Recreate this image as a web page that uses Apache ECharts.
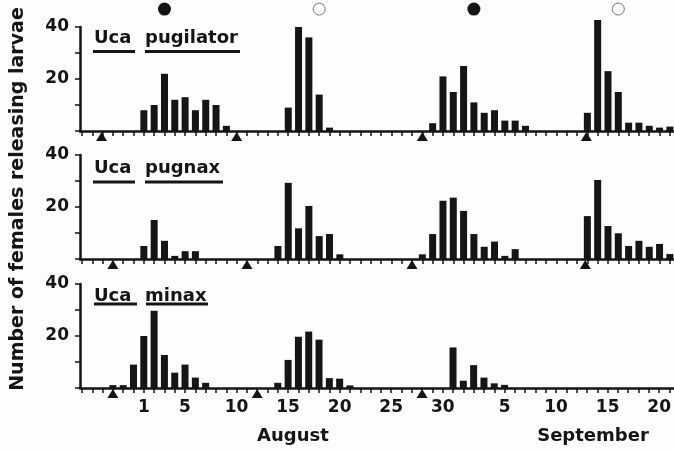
<!DOCTYPE html>
<html><head><meta charset="utf-8">
<script src="https://cdn.jsdelivr.net/npm/echarts@6/dist/echarts.min.js"></script>
<style>html,body{margin:0;padding:0;background:#fdfdfb}#c{width:674px;height:452px}</style>
</head><body><div id="c"></div>
<script>
// Panel titles
const speciesGenus = ['Uca', 'Uca', 'Uca'];
const speciesName = ['pugilator', 'pugnax', 'minax'];

// Uca pugilator
const pugilatorDates = ['Aug 1','Aug 2','Aug 3','Aug 4','Aug 5','Aug 6','Aug 7','Aug 8','Aug 9',
  'Aug 15','Aug 16','Aug 17','Aug 18','Aug 19',
  'Aug 29','Aug 30','Aug 31','Sep 1','Sep 2','Sep 3','Sep 4','Sep 5','Sep 6','Sep 7',
  'Sep 13','Sep 14','Sep 15','Sep 16','Sep 17','Sep 18','Sep 19','Sep 20','Sep 21'];
const pugilatorCounts = [8,10,22,12,13,8,12,10,2,
  9,40,36,14,1.3,
  3,21,15,25,11,7,8,4,4,2,
  7,42.7,23,15,3.2,3.2,2,1.3,1.7];

// Uca pugnax
const pugnaxDates = ['Aug 1','Aug 2','Aug 3','Aug 4','Aug 5','Aug 6',
  'Aug 14','Aug 15','Aug 16','Aug 17','Aug 18','Aug 19','Aug 20',
  'Aug 28','Aug 29','Aug 30','Aug 31','Sep 1','Sep 2','Sep 3','Sep 4','Sep 5','Sep 6',
  'Sep 13','Sep 14','Sep 15','Sep 16','Sep 17','Sep 18','Sep 19','Sep 20','Sep 21'];
const pugnaxCounts = [5,15,7,1.2,3,3,
  5,29.3,11.8,20.4,8.8,9.6,1.8,
  1.8,9.6,22.4,23.6,18.5,9.6,4.7,6.7,1.2,3.8,
  16.5,30.4,12.7,9.9,5,7,4.7,5.8,1.9];

// Uca minax
const minaxDates = ['Jul 29','Jul 30','Jul 31','Aug 1','Aug 2','Aug 3','Aug 4','Aug 5','Aug 6','Aug 7',
  'Aug 14','Aug 15','Aug 16','Aug 17','Aug 18','Aug 19','Aug 20','Aug 21',
  'Aug 31','Sep 1','Sep 2','Sep 3','Sep 4','Sep 5'];
const minaxCounts = [1.1,1.1,9,20,29.7,12.7,5.9,9,4,2,
  2,10.8,19.7,21.7,18.6,3.8,3.6,1,
  15.6,2.8,8.8,4,1.8,1.2];

// Tide markers (triangles), day number (Aug 1 = 1, Sep 1 = 32)
const pugilatorTides = [-3.1, 10, 28, 43.9];
const pugnaxTides = [-2, 11, 27, 43.8];
const minaxTides = [-2, 12, 28];

// Moon phases
const newMoonDays = [3, 33];
const fullMoonDays = [18, 47];

// X axis
const axisTickDates = ['Jul 26','Jul 27','Jul 28','Jul 29','Jul 30','Jul 31',
  'Aug 1','Aug 2','Aug 3','Aug 4','Aug 5','Aug 6','Aug 7','Aug 8','Aug 9','Aug 10',
  'Aug 11','Aug 12','Aug 13','Aug 14','Aug 15','Aug 16','Aug 17','Aug 18','Aug 19','Aug 20',
  'Aug 21','Aug 22','Aug 23','Aug 24','Aug 25','Aug 26','Aug 27','Aug 28','Aug 29','Aug 30','Aug 31',
  'Sep 1','Sep 2','Sep 3','Sep 4','Sep 5','Sep 6','Sep 7','Sep 8','Sep 9','Sep 10',
  'Sep 11','Sep 12','Sep 13','Sep 14','Sep 15','Sep 16','Sep 17','Sep 18','Sep 19','Sep 20','Sep 21'];
const xLabelDates = ['Aug 1','Aug 5','Aug 10','Aug 15','Aug 20','Aug 25','Aug 30','Sep 5','Sep 10','Sep 15','Sep 20'];
const xLabels = ['1','5','10','15','20','25','30','5','10','15','20'];
const monthNames = ['August', 'September'];
const yLabels = [20, 40];
const yTitle = 'Number of females releasing larvae';

function toDay(s) {
  const p = s.split(' '); const n = +p[1];
  return p[0] === 'Jul' ? n - 31 : (p[0] === 'Aug' ? n : n + 31);
}

const INK = '#151515';
const FONT = '"DejaVu Sans", sans-serif';
const gridTops = [27, 155, 284];
const GH = 104;
const tickDays = axisTickDates.map(toDay);
const labelDays = xLabelDates.map(toDay);

const chart = echarts.init(document.getElementById('c'), null, {renderer: 'canvas'});

const grids = gridTops.map(t => ({left: 80, right: 0, top: t, height: GH, containLabel: false}));
const xAxes = gridTops.map((t, i) => ({
  gridIndex: i, type: 'value', min: -5.19, max: 52.4,
  axisLine: {show: true, onZero: false, lineStyle: {color: INK, width: 2.5}},
  axisTick: {show: true, customValues: tickDays, length: 5, lineStyle: {color: INK, width: 1.5}},
  axisLabel: {show: i === 2, customValues: labelDays, margin: 11,
    formatter: v => { const k = labelDays.indexOf(Math.round(v)); return k >= 0 ? xLabels[k] : ''; },
    fontFamily: FONT, fontWeight: 'bold', fontSize: 17, color: INK},
  splitLine: {show: false}
}));
const yAxes = gridTops.map((t, i) => ({
  gridIndex: i, type: 'value', min: 0, max: 40, interval: 10,
  axisLine: {show: true, onZero: false, lineStyle: {color: INK, width: 2.5}},
  axisTick: {show: true, length: 5, lineStyle: {color: INK, width: 1.5}},
  axisLabel: {margin: 11, formatter: v => yLabels.indexOf(v) >= 0 ? String(v) : '',
    fontFamily: FONT, fontWeight: 'bold', fontSize: 17, color: INK},
  splitLine: {show: false}
}));

const barSets = [[pugilatorDates, pugilatorCounts], [pugnaxDates, pugnaxCounts], [minaxDates, minaxCounts]];
const tideSets = [pugilatorTides, pugnaxTides, minaxTides];
const series = [];
barSets.forEach((b, i) => {
  series.push({type: 'bar', xAxisIndex: i, yAxisIndex: i, barWidth: 7, clip: false,
    itemStyle: {color: INK}, data: b[0].map((d, k) => [toDay(d), b[1][k]]), silent: true});
  series.push({type: 'scatter', xAxisIndex: i, yAxisIndex: i, symbol: 'triangle', symbolSize: [11, 9],
    symbolOffset: [0, 5.5], clip: false, z: 5, itemStyle: {color: INK, opacity: 1},
    data: tideSets[i].map(d => [d, 0]), silent: true});
});
const moonY = 46.9;
series.push({type: 'scatter', xAxisIndex: 0, yAxisIndex: 0, symbol: 'circle', symbolSize: 13, clip: false,
  itemStyle: {color: INK, opacity: 1}, data: newMoonDays.map(d => [d, moonY]), silent: true});
series.push({type: 'scatter', xAxisIndex: 0, yAxisIndex: 0, symbol: 'circle', symbolSize: 12, clip: false,
  itemStyle: {color: '#fdfdfb', borderColor: '#777', borderWidth: 1, opacity: 1}, data: fullMoonDays.map(d => [d, moonY]), silent: true});

// Titles with underlines
const titleY = [40, 170, 298];
const graphic = [];
const textStyle = {fontFamily: FONT, fontWeight: 'bold', fontSize: 18, fill: INK};
titleY.forEach((y, i) => {
  graphic.push({type: 'text', left: 94, top: y - 11, style: Object.assign({text: speciesGenus[i]}, textStyle)});
  graphic.push({type: 'text', left: 145, top: y - 11, style: Object.assign({text: speciesName[i]}, textStyle)});
});
const underlines = [[93, 135, 145, 240], [93, 135, 145, 223], [94, 137, 146, 208]];
const underlineY = [51.5, 182, 304];
underlines.forEach((u, i) => {
  graphic.push({type: 'line', shape: {x1: u[0], y1: underlineY[i], x2: u[1], y2: underlineY[i]}, style: {stroke: INK, lineWidth: 3}});
  graphic.push({type: 'line', shape: {x1: u[2], y1: underlineY[i], x2: u[3], y2: underlineY[i]}, style: {stroke: INK, lineWidth: 3}});
});
graphic.push({type: 'text', x: 18, y: 199, rotation: Math.PI / 2,
  style: Object.assign({text: yTitle, textAlign: 'center', textVerticalAlign: 'middle'}, textStyle, {fontSize: 19})});
graphic.push({type: 'text', x: 293, y: 436, style: Object.assign({text: monthNames[0], textAlign: 'center', textVerticalAlign: 'middle'}, textStyle)});
graphic.push({type: 'text', x: 593, y: 436, style: Object.assign({text: monthNames[1], textAlign: 'center', textVerticalAlign: 'middle'}, textStyle)});

chart.setOption({
  backgroundColor: '#fdfdfb',
  animation: false,
  grid: grids, xAxis: xAxes, yAxis: yAxes, series: series, graphic: graphic
});
</script></body></html>
